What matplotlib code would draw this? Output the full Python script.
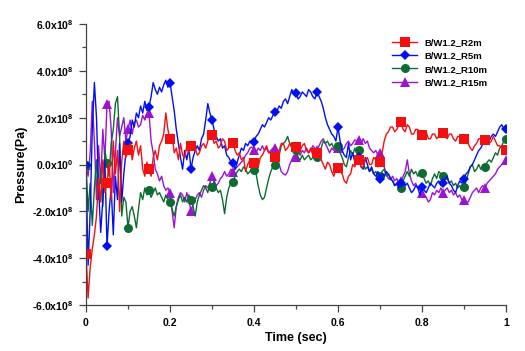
import numpy as np
import matplotlib
matplotlib.use("Agg")
import matplotlib.pyplot as plt
import matplotlib.ticker as mticker
from matplotlib import rcParams

rcParams["font.family"] = ["Liberation Sans", "DejaVu Sans"]
rcParams["mathtext.fontset"] = "custom"
rcParams["mathtext.rm"] = "Liberation Sans:bold"
rcParams["mathtext.bf"] = "Liberation Sans:bold"

# ── Data (pressure in units of 1e8 Pa, sampled every 0.005 s) ────────────────
time = np.arange(201) * 0.005

p_r2m = [
    -3.8, -5.7, -4.4, -3.6, -3.0, -2.2, -0.6, -1.6, 0.2, -1.2,
    -0.8, 0.1, -1.5, 1.0, -0.4, 0.6, -2.0, 0.1, 1.0, 0.3,
    0.6, 0.9, 0.2, 0.7, 1.0, 0.4, 0.8, -0.2, -0.5, 0.1,
    -0.2, -0.5, 0.3, 0.6, 0.2, 0.8, 1.0, 1.3, 2.2, 1.5,
    1.1, 1.3, 0.5, 0.7, 0.2, 0.9, 0.4, 0.3, 0.8, 0.5,
    0.8, 0.6, 0.7, 0.4, 0.5, 0.8, 0.9, 0.7, 1.0, 1.3,
    1.25, 0.9, 1.0, 0.7, 0.8, 1.1, 1.0, 0.6, 0.7, 0.9,
    0.9, 0.6, 0.4, 0.5, 0.2, 0.3, -0.3, 0.0, 0.2, -0.1,
    0.06, 0.2, -0.1, 0.3, 0.4, 0.6, 0.8, 0.5, 0.5, 0.2,
    0.3, 0.5, 0.6, 0.9, 0.9, 0.6, 0.7, 0.9, 0.8, 0.6,
    0.75, 0.5, 0.6, 0.8, 0.9, 0.6, 0.5, 0.7, 0.4, 0.3,
    0.5, 0.3, 0.2, 0.0, -0.2, 0.1, 0.0, -0.3, -0.5, -0.2,
    -0.15, -0.3, -0.4, -0.7, -0.8, -0.5, -0.4, 0.0, -0.1, 0.2,
    0.2, -0.1, -0.1, 0.2, 0.3, 0.0, 0.0, 0.3, 0.2, -0.1,
    0.1, 0.5, 1.0, 1.3, 1.4, 1.6, 1.6, 1.4, 1.5, 1.7,
    1.8, 1.5, 1.4, 1.7, 1.6, 1.3, 1.3, 1.5, 1.5, 1.2,
    1.25, 1.4, 1.4, 1.1, 1.1, 1.3, 1.3, 1.1, 1.2, 1.4,
    1.35, 1.2, 1.1, 1.3, 1.3, 1.1, 1.0, 1.2, 1.2, 1.0,
    1.1, 0.9, 0.9, 0.7, 0.6, 0.8, 0.9, 1.1, 1.1, 1.0,
    1.05, 0.9, 0.9, 1.0, 1.2, 1.0, 0.8, 0.8, 0.7, 0.6,
    0.6,
]

p_r5m = [
    0.0, -4.3, -2.0, 1.5, 3.5, 2.0, -1.0, -2.9, -1.5, 0.2,
    -3.5, -2.0, -1.0, -3.0, -0.5, -1.5, 0.9, -1.6, -0.4, 0.5,
    0.9, 1.2, 1.9, 1.6, 2.2, 2.0, 2.5, 2.2, 2.7, 2.3,
    2.45, 2.9, 3.5, 3.2, 3.0, 3.3, 3.1, 3.4, 3.6, 3.3,
    3.5, 2.9, 2.3, 1.5, 0.9, 0.3, -0.2, 0.6, 0.2, 0.7,
    -0.2, 0.3, 0.6, 0.8, 0.6, 1.1, 1.3, 1.9, 2.6, 2.2,
    1.9, 1.5, 1.2, 1.0, 1.1, 0.7, 0.8, 0.4, 0.3, 0.1,
    0.06, -0.2, 0.1, 0.4, 0.7, 0.6, 0.9, 0.8, 1.0, 0.9,
    0.95, 1.2, 1.3, 1.5, 1.7, 1.6, 1.8, 2.0, 1.9, 2.1,
    2.25, 2.3, 2.5, 2.4, 2.7, 2.8, 2.6, 2.9, 3.2, 3.0,
    3.05, 2.8, 2.9, 3.1, 3.0, 2.9, 3.2, 3.1, 2.9, 2.8,
    3.1, 2.9, 2.7, 2.4, 2.0, 1.7, 1.5, 1.3, 1.2, 1.0,
    1.6, 1.0, 0.6, 0.4, 0.3, 0.9, 0.2, 0.5, 0.1, 0.4,
    0.3, -0.1, -0.2, 0.3, 0.0, -0.3, -0.1, -0.4, -0.5, -0.3,
    -0.6, -0.4, -0.5, -0.3, -0.4, -0.6, -0.7, -0.9, -0.8, -1.0,
    -0.8, -0.7, -0.9, -0.8, -1.0, -1.2, -1.1, -0.9, -1.0, -1.3,
    -0.95, -1.1, -1.2, -1.0, -0.8, -0.9, -1.0, -0.8, -0.7, -0.9,
    -0.8, -0.6, -0.5, -0.8, -0.9, -1.1, -1.2, -0.9, -0.7, -0.8,
    -0.6, -0.4, -0.3, -0.1, 0.0, 0.2, 0.4, 0.6, 0.7, 0.9,
    1.05, 0.9, 1.0, 1.2, 1.3, 1.2, 1.4, 1.6, 1.7, 1.5,
    1.5,
]

p_r10m = [
    0.0, -2.0, -0.8, -2.6, -1.0, 0.2, -1.5, -0.2, -1.8, 0.6,
    0.06, -0.5, 0.9, 1.5, 2.6, 2.9, 1.2, -2.2, -1.4, -1.6,
    -2.7, -2.0, -1.8, -2.2, -2.7, -1.9, -1.2, -1.5, -1.0, -1.3,
    -1.1, -1.4, -1.2, -1.0, -1.3, -1.2, -1.4, -1.6, -1.3, -1.5,
    -1.6, -1.9, -2.2, -1.8, -1.5, -1.3, -1.6, -1.4, -1.6, -1.3,
    -1.5, -1.8, -2.2, -1.6, -1.3, -1.1, -0.9, -1.0, -1.2, -0.8,
    -0.95, -0.7, -1.0, -1.2, -1.1, -1.5, -2.1, -1.4, -1.0, -0.8,
    -0.75, -0.5, -0.3, -0.2, -0.3, -0.1, -0.2, -0.4, -0.3, -0.2,
    -0.25, -0.4, -0.9, -1.3, -1.5, -1.4, -1.0, -0.6, -0.3, -0.1,
    0.0, 0.2, 0.4, 0.8, 0.9, 1.0, 1.2, 0.9, 0.7, 0.5,
    0.6, 0.3, 0.2, 0.4, 0.2, 0.3, 0.4, 0.2, 0.3, 0.5,
    0.3, 0.5, 0.7, 1.0, 0.9, 1.0, 0.8, 0.9, 0.7, 0.9,
    0.8, 0.5, 0.3, 0.0, -0.1, 0.3, 0.6, 0.4, 0.7, 0.5,
    0.6, 0.3, 0.1, -0.2, -0.1, -0.3, -0.2, -0.4, -0.3, -0.5,
    -0.5, -0.3, -0.2, -0.5, -0.4, -0.6, -0.7, -0.9, -0.8, -1.0,
    -1.0, -0.7, -0.5, -0.3, -0.5, -0.2, -0.4, -0.3, -0.5, -0.4,
    -0.35, -0.6, -0.8, -0.7, -0.9, -0.6, -0.4, -0.6, -0.3, -0.4,
    -0.5, -0.4, -0.6, -0.8, -0.7, -0.9, -0.8, -1.0, -0.9, -1.1,
    -0.95, -0.7, -0.4, -0.1, 0.0, -0.3, -0.2, 0.0, -0.2, -0.1,
    -0.1, 0.1, 0.2, 0.1, 0.3, 0.5, 0.4, 0.7, 0.8, 1.0,
    1.1,
]

p_r15m = [
    0.0, -0.5, 0.5, 2.7, 1.0, -1.5, 0.8, -0.8, 1.5, 0.2,
    2.6, 2.7, 1.5, -1.2, 0.5, 2.0, 1.2, 1.6, 2.0, 1.0,
    1.5, 1.9, 1.3, 1.8, 1.9, 1.6, 1.7, 2.1, 1.9, 2.2,
    2.2, 1.0, 0.5, -0.2, -0.4, -0.7, -0.5, -0.9, -1.1, -1.0,
    -1.2, -2.0, -2.7, -1.8, -1.4, -1.2, -1.3, -1.6, -1.2, -1.5,
    -2.0, -1.7, -1.5, -1.3, -1.2, -1.4, -1.1, -0.9, -1.0, -0.8,
    -0.5, -0.7, -0.9, -0.8, -0.6, -0.5, -0.3, -0.5, -0.4, -0.2,
    -0.3, -0.2, -0.1, 0.0, 0.1, 0.2, 0.4, 0.5, 0.7, 0.75,
    0.6, 0.5, 0.7, 0.6, 0.8, 0.6, 0.7, 0.5, 0.6, 0.7,
    0.7, 0.3, 0.0, -0.3, -0.4, -0.45, -0.3, 0.0, 0.2, 0.4,
    0.3, 0.5, 0.4, 0.6, 0.5, 0.7, 0.5, 0.6, 0.8, 0.7,
    0.6, 0.8, 1.0, 1.1, 0.9, 0.7, 0.5, 0.7, 0.6, 0.9,
    0.7, 0.8, 0.6, 0.7, 0.9, 1.0, 0.8, 0.9, 1.05, 1.0,
    1.05, 0.9, 1.1, 0.9, 1.0, 0.7, 0.6, 0.5, 0.6, 0.4,
    0.5, 0.2, -0.1, -0.4, -0.6, -0.65, -0.5, -0.7, -0.6, -0.8,
    -0.7, -0.5, -0.3, 0.2, -0.4, -0.7, -0.9, -0.8, -1.0, -1.1,
    -1.2, -1.3, -1.4, -1.6, -1.5, -1.2, -1.3, -1.1, -1.2, -1.0,
    -1.2, -1.1, -1.0, -1.2, -1.1, -1.3, -1.2, -1.4, -1.3, -1.5,
    -1.5, -1.6, -1.6, -1.4, -1.2, -1.1, -1.0, -1.2, -1.0, -0.9,
    -1.0, -0.8, -0.7, -0.6, -0.5, -0.4, -0.2, -0.1, 0.0, 0.1,
    0.2,
]

labels = ["B/W1.2_R2m", "B/W1.2_R5m", "B/W1.2_R10m", "B/W1.2_R15m"]
ytick_vals = [-6, -4, -2, 0, 2, 4, 6]
ytick_text = [r"-6.0x10$^{8}$", r"-4.0x10$^{8}$", r"-2.0x10$^{8}$", r"0.0x10$^{0}$",
              r"2.0x10$^{8}$", r"4.0x10$^{8}$", r"6.0x10$^{8}$"]
xtick_vals = [0, 0.2, 0.4, 0.6, 0.8, 1.0]
xtick_text = ["0", "0.2", "0.4", "0.6", "0.8", "1"]

# ── Figure ───────────────────────────────────────────────────────────────────
fig = plt.figure(figsize=(5.25, 3.51), dpi=100)
ax = fig.add_axes([0.1638, 0.131, 0.80, 0.8006])

series = [
    (p_r15m, "#9b14d0", "^", 6.5, labels[3]),
    (p_r10m, "#0f6b32", "o", 6.5, labels[2]),
    (p_r5m, "#0010f0", "D", 5.4, labels[1]),
    (p_r2m, "#f21010", "s", 6.5, labels[0]),
]
handles = {}
for vals, col, mk, ms, lab in series:
    y = np.array(vals) * 1e8
    h, = ax.plot(time, y, color=col, lw=1.0, marker=mk, ms=ms,
                 markevery=10, markeredgewidth=0, label=lab)
    handles[lab] = h

ax.set_xlim(0, 1)
ax.set_ylim(-6e8, 6e8)
ax.set_xticks(xtick_vals)
ax.set_xticklabels(xtick_text)
ax.xaxis.set_minor_locator(mticker.MultipleLocator(0.1))
ax.set_yticks([v * 1e8 for v in ytick_vals])
ax.set_yticklabels(ytick_text)
ax.yaxis.set_minor_locator(mticker.MultipleLocator(1e8))

for s in ["top", "right"]:
    ax.spines[s].set_visible(False)
for s in ["left", "bottom"]:
    ax.spines[s].set_color("#444444")
    ax.spines[s].set_linewidth(0.9)
ax.tick_params(axis="both", which="major", length=5, width=0.9, color="#444444",
               labelsize=7.5, pad=4)
ax.tick_params(axis="both", which="minor", length=3, width=0.9, color="#444444")
for t in ax.get_xticklabels() + ax.get_yticklabels():
    t.set_fontweight("bold")

ax.set_xlabel("Time (sec)", fontsize=9, fontweight="bold", labelpad=3)
ax.set_ylabel("Pressure(Pa)", fontsize=9, fontweight="bold", labelpad=4)

ax.legend([handles[l] for l in labels], labels, loc="upper right",
          bbox_to_anchor=(0.97, 0.97), frameon=False,
          prop={"weight": "bold", "size": 6.8}, handlelength=2.6,
          labelspacing=0.45, borderaxespad=0.2)

fig.savefig("out.png", dpi=100)
